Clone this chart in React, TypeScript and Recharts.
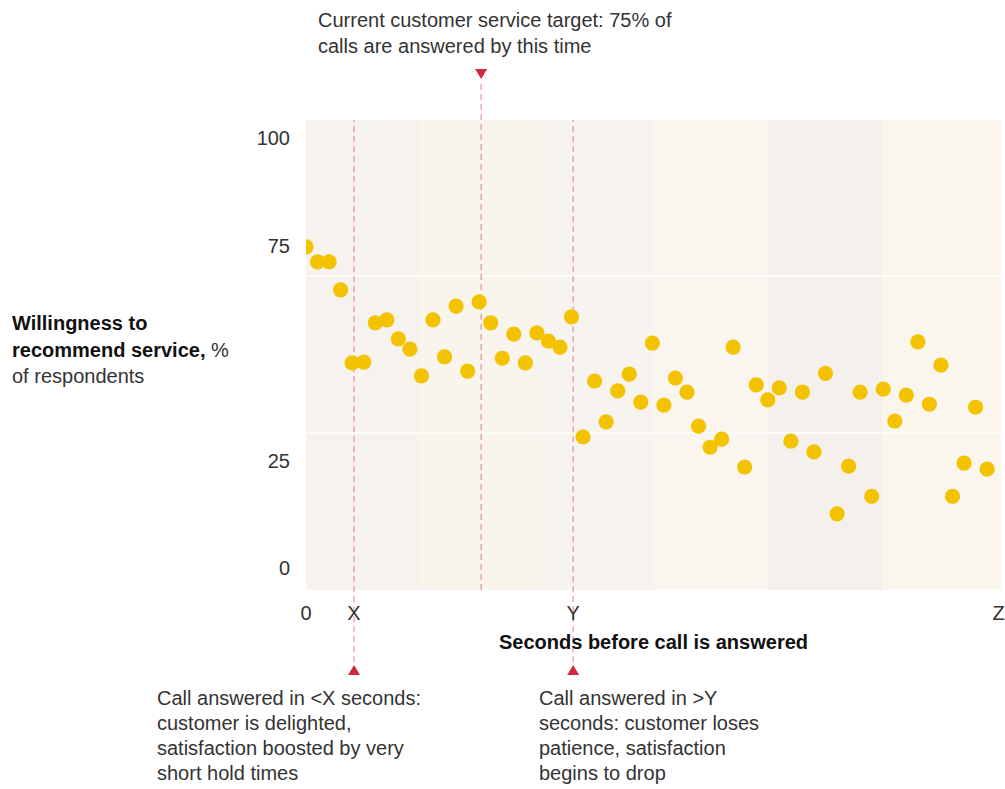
import React from 'react';
import {
  ScatterChart,
  Scatter,
  XAxis,
  YAxis,
  ReferenceArea,
  ReferenceLine,
  ReferenceDot,
} from 'recharts';

// seconds before answer (one survey bucket per step) and willingness to recommend, %
const seconds = [
  0, 1, 2, 3, 4, 5, 6, 7, 8, 9,
  10, 11, 12, 13, 14, 15, 16, 17, 18, 19,
  20, 21, 22, 23, 24, 25, 26, 27, 28, 29,
  30, 31, 32, 33, 34, 35, 36, 37, 38, 39,
  40, 41, 42, 43, 44, 45, 46, 47, 48, 49,
  50, 51, 52, 53, 54, 55, 56, 57, 58, 59,
];
const willingness = [
  74.7, 71.2, 71.2, 64.7, 47.7, 47.9, 57.0, 57.7, 53.3, 50.9,
  44.7, 57.7, 49.1, 60.9, 45.8, 61.9, 57.0, 48.8, 54.4, 47.7,
  54.7, 52.8, 51.4, 58.4, 30.5, 43.5, 34.0, 41.2, 45.1, 38.6,
  52.3, 37.9, 44.2, 40.9, 33.0, 28.1, 30.0, 51.4, 23.5, 42.6,
  39.1, 41.9, 29.5, 40.9, 27.0, 45.3, 12.6, 23.7, 40.9, 16.7,
  41.6, 34.2, 40.2, 52.6, 38.1, 47.2, 16.7, 24.4, 37.4, 23.0,
];

const xTicks = [0, 4.16, 23.14, 60];
const xTickLabels = ['0', 'X', 'Y', 'Z'];
const yTicks = [0, 25, 75, 100];

const xDomain = [0, 60.2];
const yDomain = [-5.1, 104.2];

// background tiles
const bandEdgesX = [0, 10, 20, 30, 40, 50, 60.2];
const bandEdgesY = [-5.1, 31.4, 67.9, 104.2];
const bandShades = ['#f6f2ed', '#faf5ec', '#f7f4ef', '#faf6ef', '#f4f1ec', '#faf6ee'];

// annotation positions on the seconds axis
const fastLimit = 4.16;
const serviceTarget = 15.17;
const slowLimit = 23.14;

const FONT = '"Liberation Sans", Arial, sans-serif';
const LINE = '#d24a66';
const MARK = '#d0283c';
const DOT = '#f3c200';

const data = seconds.map((s, i) => ({ seconds: s, willingness: willingness[i] }));

const Dot = (p: any) => <circle cx={p.cx} cy={p.cy} r={7.6} fill={DOT} />;
const Down = (p: any) => (
  <path d={`M${p.cx - 6},${p.cy - 5}L${p.cx + 6},${p.cy - 5}L${p.cx},${p.cy + 5}Z`} fill={MARK} />
);
const Up = (p: any) => (
  <path d={`M${p.cx - 6},${p.cy + 5}L${p.cx + 6},${p.cy + 5}L${p.cx},${p.cy - 5}Z`} fill={MARK} />
);

const text: React.CSSProperties = {
  position: 'absolute',
  fontFamily: FONT,
  fontSize: 20,
  lineHeight: '25px',
  color: '#333',
  whiteSpace: 'nowrap',
};

export default function App() {
  const tiles: React.ReactNode[] = [];
  for (let r = 0; r < bandEdgesY.length - 1; r++) {
    for (let c = 0; c < bandEdgesX.length - 1; c++) {
      tiles.push(
        <ReferenceArea
          key={`t${r}-${c}`}
          x1={bandEdgesX[c]}
          x2={bandEdgesX[c + 1]}
          y1={bandEdgesY[r]}
          y2={bandEdgesY[r + 1]}
          fill={bandShades[c]}
          fillOpacity={1}
          stroke="none"
        />
      );
    }
  }

  return (
    <div style={{ position: 'absolute', left: 0, top: 0, width: 1005, height: 789, background: '#fff' }}>
      <ScatterChart width={1005} height={789} margin={{ top: 120, right: 4, bottom: 139, left: 246 }}>
        {tiles}
        <ReferenceLine y={bandEdgesY[1]} stroke="#fdfcf9" strokeWidth={2} />
        <ReferenceLine y={bandEdgesY[2]} stroke="#fdfcf9" strokeWidth={2} />
        <XAxis
          type="number"
          dataKey="seconds"
          domain={xDomain}
          allowDataOverflow
          ticks={xTicks}
          interval={0}
          tickFormatter={(v: number) => xTickLabels[xTicks.indexOf(v)] ?? ''}
          axisLine={false}
          tickLine={false}
          tickSize={0}
          tickMargin={16}
          height={60}
          tick={{ fontFamily: FONT, fontSize: 20, fill: '#333' }}
          label={{
            value: 'Seconds before call is answered',
            position: 'insideBottom',
            offset: 1,
            fill: '#111',
            fontSize: 20,
            fontWeight: 700,
            fontFamily: FONT,
          }}
        />
        <YAxis
          type="number"
          dataKey="willingness"
          domain={yDomain}
          allowDataOverflow
          ticks={yTicks}
          interval={0}
          axisLine={false}
          tickLine={false}
          tickSize={0}
          tickMargin={16}
          width={60}
          tick={{ fontFamily: FONT, fontSize: 20, fill: '#333' }}
        />
        <ReferenceLine
          segment={[{ x: fastLimit, y: -21.9 }, { x: fastLimit, y: 104.2 }]}
          stroke={LINE}
          strokeOpacity={0.7}
          strokeDasharray="6 4"
          ifOverflow="visible"
        />
        <ReferenceLine
          segment={[{ x: serviceTarget, y: -5.1 }, { x: serviceTarget, y: 113.5 }]}
          stroke={LINE}
          strokeOpacity={0.7}
          strokeDasharray="6 4"
          ifOverflow="visible"
        />
        <ReferenceLine
          segment={[{ x: slowLimit, y: -21.9 }, { x: slowLimit, y: 104.2 }]}
          stroke={LINE}
          strokeOpacity={0.7}
          strokeDasharray="6 4"
          ifOverflow="visible"
        />
        <Scatter data={data} fill={DOT} shape={Dot} isAnimationActive={false} />
        <ReferenceDot x={serviceTarget} y={114.9} ifOverflow="visible" shape={Down} />
        <ReferenceDot x={fastLimit} y={-23.7} ifOverflow="visible" shape={Up} />
        <ReferenceDot x={slowLimit} y={-23.7} ifOverflow="visible" shape={Up} />
      </ScatterChart>

      <div style={{ ...text, left: 318, top: 7, lineHeight: '26px' }}>
        Current customer service target: 75% of
        <br />
        calls are answered by this time
      </div>

      <div style={{ ...text, left: 12, top: 310, lineHeight: '26.5px' }}>
        <b style={{ color: '#111' }}>Willingness to</b>
        <br />
        <b style={{ color: '#111' }}>recommend service,</b> %
        <br />
        of respondents
      </div>

      <div style={{ ...text, left: 157, top: 686 }}>
        Call answered in &lt;X seconds:
        <br />
        customer is delighted,
        <br />
        satisfaction boosted by very
        <br />
        short hold times
      </div>

      <div style={{ ...text, left: 539, top: 686 }}>
        Call answered in &gt;Y
        <br />
        seconds: customer loses
        <br />
        patience, satisfaction
        <br />
        begins to drop
      </div>
    </div>
  );
}
